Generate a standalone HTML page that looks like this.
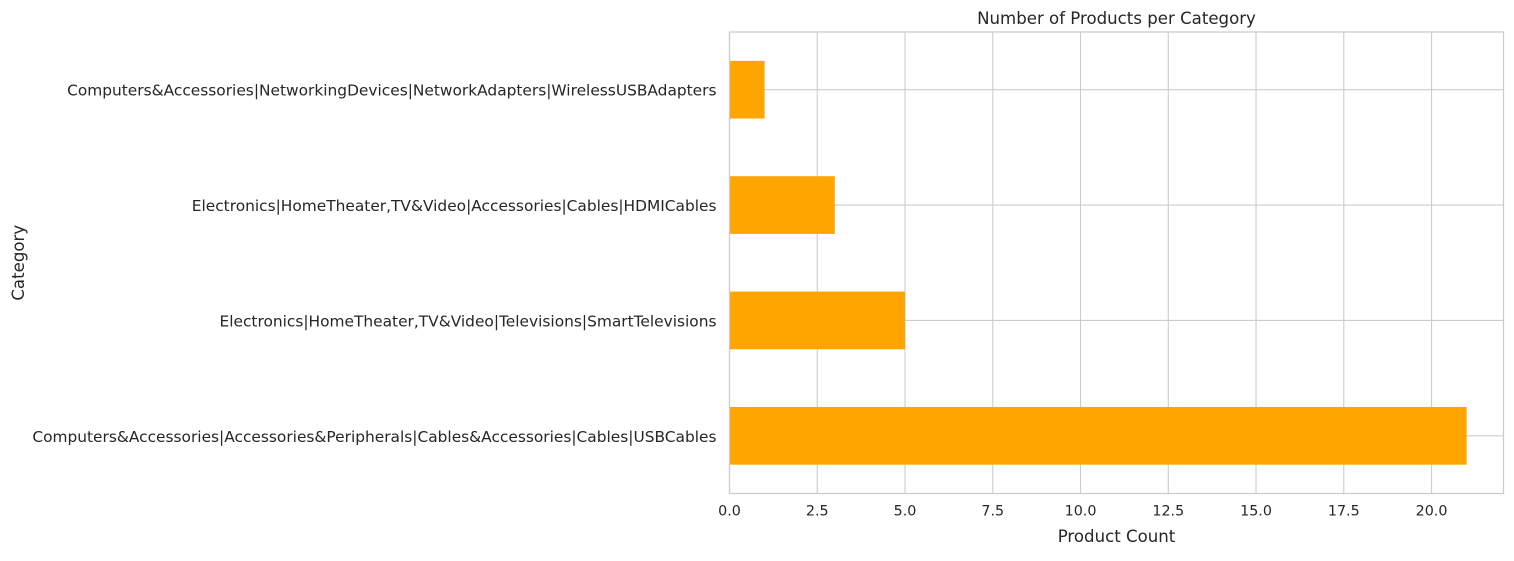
<!DOCTYPE html>
<html><head><meta charset="utf-8"><style>
body{margin:0;background:#fff;}
svg text{font-family:"DejaVu Sans","Liberation Sans",sans-serif;fill:#262626;}
</style></head><body>
<svg id="chart" width="1514" height="556" xmlns="http://www.w3.org/2000/svg"></svg>
<script>
const categories=["Computers&Accessories|NetworkingDevices|NetworkAdapters|WirelessUSBAdapters","Electronics|HomeTheater,TV&Video|Accessories|Cables|HDMICables","Electronics|HomeTheater,TV&Video|Televisions|SmartTelevisions","Computers&Accessories|Accessories&Peripherals|Cables&Accessories|Cables|USBCables"];
const counts=[1,3,5,21];
const xTicks=[0,2.5,5,7.5,10,12.5,15,17.5,20];
const xTickLabels=["0.0","2.5","5.0","7.5","10.0","12.5","15.0","17.5","20.0"];

const svg=document.getElementById('chart');
const NS='http://www.w3.org/2000/svg';
const L=729.5,R=1503.5,T=32,B=493.5;
const xMax=Math.max(...counts)*1.05;
const x=v=>L+(v/xMax)*(R-L);
const band=(B-T)/categories.length;
const y=i=>T+band*(i+0.5);
function el(tag,attrs,text){const e=document.createElementNS(NS,tag);for(const k in attrs)e.setAttribute(k,attrs[k]);if(text!==undefined)e.textContent=text;svg.appendChild(e);return e;}

xTicks.forEach((t,i)=>{
  const g=el('line',{x1:x(t),x2:x(t),y1:T,y2:B,stroke:'#cccccc','stroke-width':1.1});
  
  
  const lb=el('text',{x:x(t),y:B+22,'text-anchor':'middle','font-size':14.3},xTickLabels[i]);
  
  
});
categories.forEach((c,i)=>{
  const g=el('line',{x1:L,x2:R,y1:y(i),y2:y(i),stroke:'#cccccc','stroke-width':1.1});
  
  
});
categories.forEach((c,i)=>{
  const h=band*0.5;
  const r=el('rect',{x:x(0),y:y(i)-h/2,width:x(counts[i])-x(0),height:h,fill:'#ffa500'});
  
  
  const lb=el('text',{x:L-13,y:y(i)+6,'text-anchor':'end','font-size':15.4},c);
  
  
});
const fr=el('rect',{x:L,y:T,width:R-L,height:B-T,fill:'none',stroke:'#cccccc','stroke-width':1.25});


const tt=el('text',{x:(L+R)/2,y:24,'text-anchor':'middle','font-size':16.6},'Number of Products per Category');


const xl=el('text',{x:(L+R)/2,y:542,'text-anchor':'middle','font-size':16.6},'Product Count');


const yl=el('text',{x:24,y:(T+B)/2,'text-anchor':'middle','font-size':16.6,transform:'rotate(-90 24 '+((T+B)/2)+')'},'Category');


</script>
</body></html>
